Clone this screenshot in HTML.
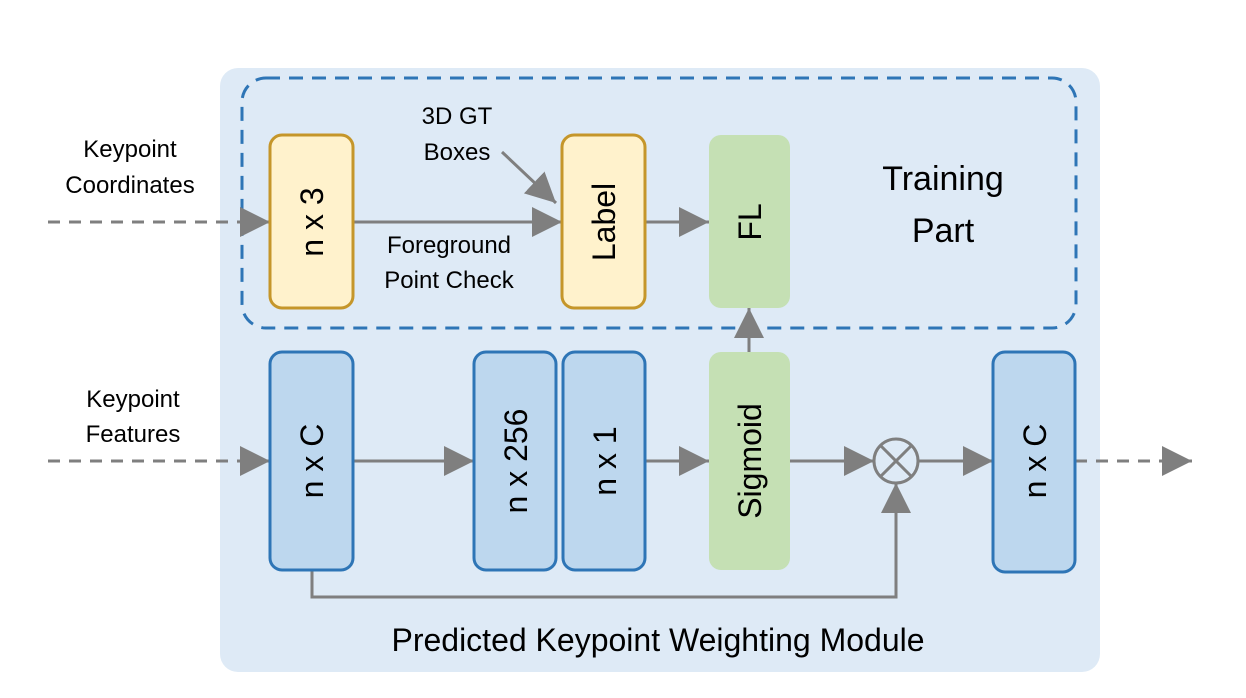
<!DOCTYPE html>
<html><head><style>body{margin:0;background:#fff}svg{display:block}text{font-family:"Liberation Sans",sans-serif;fill:#000}</style></head>
<body>
<svg width="1246" height="698" viewBox="0 0 1246 698" xmlns="http://www.w3.org/2000/svg">
<defs>
<marker id="b" viewBox="0 0 10 10" refX="10" refY="5" markerWidth="30" markerHeight="30" orient="auto" markerUnits="userSpaceOnUse"><path d="M0,0L10,5L0,10z" fill="#7f7f7f"/></marker>
</defs>
<rect x="220" y="68" width="880" height="604" rx="18" fill="#deeaf6"/>
<rect x="242" y="78" width="834" height="250" rx="24" fill="none" stroke="#2e75b6" stroke-width="3" stroke-dasharray="14,9"/>
<g stroke="#7f7f7f" stroke-width="3" fill="none">
<line x1="48" y1="222" x2="270" y2="222" stroke-dasharray="12,9" marker-end="url(#b)"/>
<line x1="353" y1="222" x2="562" y2="222" marker-end="url(#b)"/>
<line x1="645" y1="222" x2="709" y2="222" marker-end="url(#b)"/>
<line x1="502" y1="152" x2="556" y2="203" marker-end="url(#b)"/>
<line x1="749" y1="352" x2="749" y2="308" marker-end="url(#b)"/>
<line x1="48" y1="461" x2="270" y2="461" stroke-dasharray="12,9" marker-end="url(#b)"/>
<line x1="353" y1="461" x2="474" y2="461" marker-end="url(#b)"/>
<line x1="645" y1="461" x2="709" y2="461" marker-end="url(#b)"/>
<line x1="790" y1="461" x2="874" y2="461" marker-end="url(#b)"/>
<line x1="918" y1="461" x2="993" y2="461" marker-end="url(#b)"/>
<line x1="1075" y1="461" x2="1192" y2="461" stroke-dasharray="12,9" marker-end="url(#b)"/>
<polyline points="312,570 312,597 896,597 896,483" marker-end="url(#b)"/>
<circle cx="896" cy="461" r="22"/>
<line x1="880" y1="445" x2="912" y2="477"/><line x1="912" y1="445" x2="880" y2="477"/>
</g>
<g stroke-width="3">
<rect x="270" y="135" width="83" height="173" rx="12" fill="#fff2cc" stroke="#c5962a"/>
<rect x="562" y="135" width="83" height="173" rx="12" fill="#fff2cc" stroke="#c5962a"/>
<rect x="709" y="135" width="81" height="173" rx="12" fill="#c5e0b4"/>
<rect x="270" y="352" width="83" height="218" rx="12" fill="#bdd7ee" stroke="#2e75b6"/>
<rect x="474" y="352" width="82" height="218" rx="12" fill="#bdd7ee" stroke="#2e75b6"/>
<rect x="563" y="352" width="82" height="218" rx="12" fill="#bdd7ee" stroke="#2e75b6"/>
<rect x="709" y="352" width="81" height="218" rx="12" fill="#c5e0b4"/>
<rect x="993" y="352" width="82" height="220" rx="12" fill="#bdd7ee" stroke="#2e75b6"/>
</g>
<g font-size="32" text-anchor="middle">
<text transform="translate(323,222) rotate(-90)">n x 3</text>
<text transform="translate(615,222) rotate(-90)">Label</text>
<text transform="translate(761,222) rotate(-90)">FL</text>
<text transform="translate(323,461) rotate(-90)">n x C</text>
<text transform="translate(527,461) rotate(-90)">n x 256</text>
<text transform="translate(616,461) rotate(-90)">n x 1</text>
<text transform="translate(761,461) rotate(-90)">Sigmoid</text>
<text transform="translate(1046,461) rotate(-90)">n x C</text>
</g>
<g font-size="24" text-anchor="middle">
<text x="130" y="157">Keypoint</text><text x="130" y="193">Coordinates</text>
<text x="133" y="407">Keypoint</text><text x="133" y="442">Features</text>
<text x="457" y="124">3D GT</text><text x="457" y="160">Boxes</text>
<text x="449" y="253">Foreground</text><text x="449" y="288">Point Check</text>
</g>
<g font-size="34" text-anchor="middle">
<text x="943" y="190">Training</text><text x="943" y="242">Part</text>
<text x="658" y="651" font-size="32">Predicted Keypoint Weighting Module</text>
</g>
</svg>
</body></html>
